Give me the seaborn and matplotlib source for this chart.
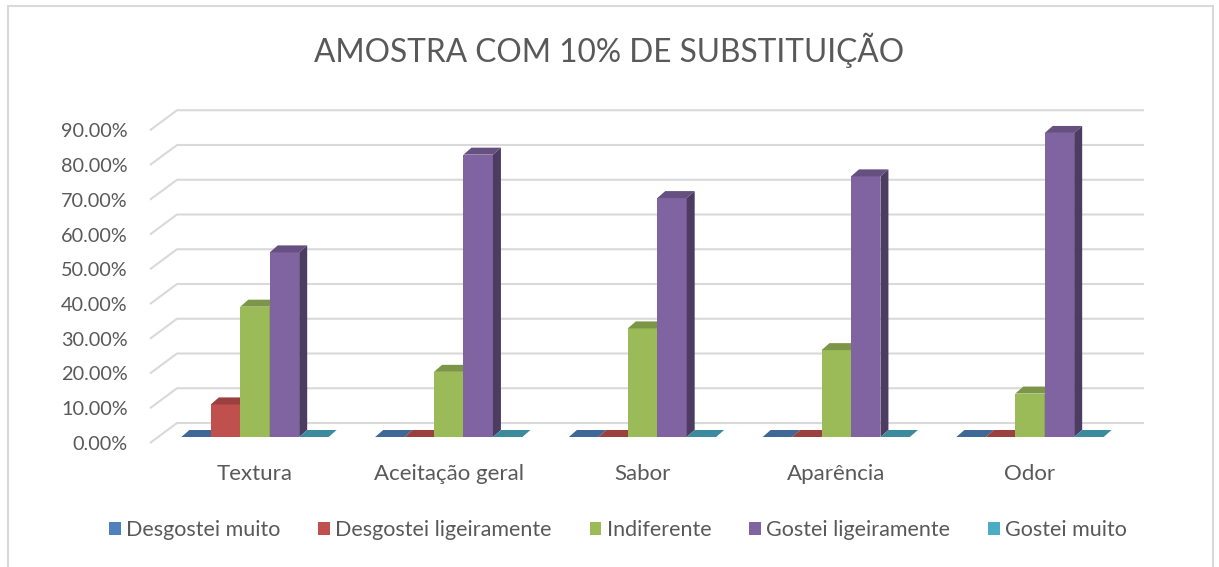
import numpy as np
import pandas as pd
import matplotlib
matplotlib.use("Agg")
import matplotlib.pyplot as plt
from matplotlib.patches import Polygon, Patch, Rectangle
from matplotlib.ticker import FuncFormatter
from matplotlib.transforms import ScaledTranslation
import seaborn as sns

# ---------------- data ----------------
categories = ["Textura", "Aceitação geral", "Sabor", "Aparência", "Odor"]
series = ["Desgostei muito", "Desgostei ligeiramente", "Indiferente",
          "Gostei ligeiramente", "Gostei muito"]
desgostei_muito = [0.0, 0.0, 0.0, 0.0, 0.0]
desgostei_ligeiramente = [9.375, 0.0, 0.0, 0.0, 0.0]
indiferente = [37.5, 18.75, 31.25, 25.0, 12.5]
gostei_ligeiramente = [53.125, 81.25, 68.75, 75.0, 87.5]
gostei_muito = [0.0, 0.0, 0.0, 0.0, 0.0]
y_ticks = [0, 10, 20, 30, 40, 50, 60, 70, 80, 90]
title = "AMOSTRA COM 10% DE SUBSTITUIÇÃO"

colors = ["#4f81bd", "#c0504d", "#9bbb59", "#8064a2", "#4bacc6"]

rows = []
for s, vals in zip(series, [desgostei_muito, desgostei_ligeiramente, indiferente,
                            gostei_ligeiramente, gostei_muito]):
    for c, v in zip(categories, vals):
        rows.append({"categoria": c, "serie": s, "valor": v})
df = pd.DataFrame(rows)

# ---------------- style ----------------
sns.set_theme(style="white")
FONT = ["Lato", "DejaVu Sans"]
plt.rcParams["font.family"] = FONT
TXT = "#595959"
GRID = "#d9d9d9"

W, H = 1219, 567
fig = plt.figure(figsize=(W / 100, H / 100), dpi=100)
fig.patch.set_facecolor("white")

# axes = plane of the bars' front faces (pixel geometry of the reference)
ax_left, ax_right, ax_top, ax_bot = 150, 1117, 100, 450
ax = fig.add_axes([ax_left / W, (H - ax_bot) / H, (ax_right - ax_left) / W,
                   (ax_bot - ax_top) / H])
ax.set_facecolor("none")

sns.barplot(data=df, x="categoria", y="valor", hue="serie", order=categories,
            hue_order=series, palette=colors, saturation=1, width=0.76,
            linewidth=0, legend=False, ax=ax, zorder=3)

ax.set_xlim(-0.542, 4.449)
ax.set_ylim(-13 / 3.475, (437 - 100) / 3.475)
for sp in ax.spines.values():
    sp.set_visible(False)
ax.set_xlabel("")
ax.set_ylabel("")
ax.grid(False)


def px(dx, dy):
    """pixel offset (x right, y up) -> data offset"""
    o = ax.transData.transform((0, 0))
    p = ax.transData.inverted().transform(o + np.array([dx, dy]))
    return np.array(p)


# back wall gridlines + side-wall diagonals
xl = ax.get_xlim()[0]
f_off = px(0, -6)
b_off = px(27, 14)
e_off = px(1144 - 150, 14)
for v in y_ticks:
    base = np.array([xl, v])
    pts = np.array([base + f_off, base + b_off, base + e_off])
    ax.plot(pts[:, 0], pts[:, 1], color=GRID, lw=1.5, zorder=1,
            clip_on=False, solid_capstyle="butt")

# pseudo-3D faces of each bar
d = px(8, 7)


def shade(c, f):
    r = np.array(matplotlib.colors.to_rgb(c)) * f
    return tuple(np.clip(r, 0, 1))


for k, cont in enumerate(ax.containers):
    for rect in cont:
        x0, y0 = rect.get_x(), rect.get_y()
        w, h = rect.get_width(), rect.get_height()
        z = 3 + k * 0.1
        rect.set_zorder(z)
        col = colors[k]
        top = Polygon([(x0, y0 + h), (x0 + w, y0 + h),
                       (x0 + w + d[0], y0 + h + d[1]), (x0 + d[0], y0 + h + d[1])],
                      closed=True, facecolor=shade(col, 0.8), edgecolor="none",
                      zorder=z + 0.05, clip_on=False)
        ax.add_patch(top)
        if h > 0:
            side = Polygon([(x0 + w, y0), (x0 + w + d[0], y0 + d[1]),
                            (x0 + w + d[0], y0 + h + d[1]), (x0 + w, y0 + h)],
                           closed=True, facecolor=shade(col, 0.6),
                           edgecolor="none", zorder=z + 0.05, clip_on=False)
            ax.add_patch(side)

# ticks
ax.set_yticks(y_ticks)
ax.yaxis.set_major_formatter(FuncFormatter(lambda v, p: f"{v:.2f}%"))
ax.tick_params(axis="y", length=0, pad=16, labelsize=14.3, labelcolor=TXT)
ax.tick_params(axis="x", length=0, pad=10, labelsize=16, labelcolor=TXT)
shift = ScaledTranslation(0, -6 / 100, fig.dpi_scale_trans)
for lbl in ax.get_yticklabels():
    lbl.set_transform(lbl.get_transform() + shift)

# title
fig.text(0.5, (H - 50) / H, title, ha="center", va="center", fontsize=22.8,
         color=TXT)

# legend
handles = [Patch(facecolor=c, edgecolor="none") for c in colors]
leg = fig.legend(handles, series, loc="center", bbox_to_anchor=(0.507, (H - 530) / H),
                 ncol=5, frameon=False, handlelength=0.55, handleheight=0.55,
                 handletextpad=0.25, columnspacing=1.75, fontsize=15.5)
for t in leg.get_texts():
    t.set_color(TXT)

# outer chart frame
fig.patches.append(Rectangle((8 / W, -0.05), (1213 - 8) / W, 1.05 - 6 / H,
                             transform=fig.transFigure, fill=False,
                             edgecolor=GRID, lw=1.5))

fig.savefig("out.png", dpi=100, facecolor="white")
